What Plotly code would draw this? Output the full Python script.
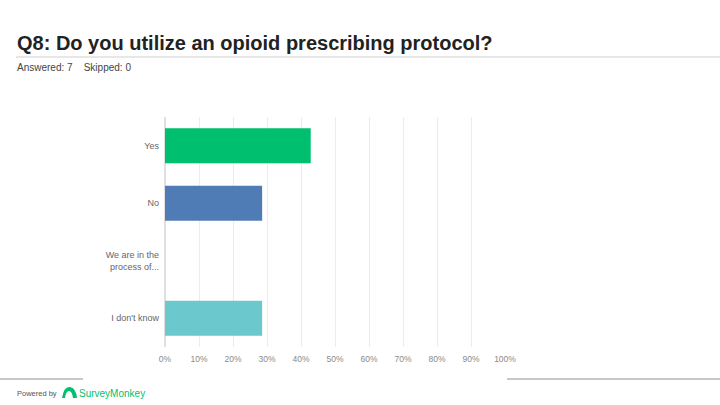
import plotly.graph_objects as go

# Q8 de la encuesta: 7 respondieron, 0 omitieron
CATEGORIAS = ["Yes", "No", "We are in the<br>process of...", "I don't know"]
PORCENTAJES = [42.86, 28.57, 0.0, 28.57]
COLORES = ["#00BF6F", "#507CB6", "#F9BE00", "#6BC8CD"]
TICKS = [0, 10, 20, 30, 40, 50, 60, 70, 80, 90, 100]
TICK_LABELS = [f"{t}%" for t in TICKS]

W, H = 720, 405
FONT = "Liberation Sans, Arial, sans-serif"


def px_x(x):
    return x / W


def px_y(y):
    return 1 - y / H


fig = go.Figure(
    go.Bar(
        x=PORCENTAJES,
        y=CATEGORIAS,
        orientation="h",
        marker=dict(color=COLORES, line=dict(width=0)),
        hoverinfo="x+y",
    )
)

fig.update_layout(
    width=W,
    height=H,
    paper_bgcolor="white",
    plot_bgcolor="white",
    margin=dict(l=0, r=0, t=0, b=0, autoexpand=False),
    showlegend=False,
    bargap=0.39,
    font=dict(family=FONT, color="#666666"),
    xaxis=dict(
        domain=[px_x(165), px_x(505)],
        range=[0, 100],
        tickvals=TICKS,
        ticktext=TICK_LABELS,
        tickfont=dict(size=8.5, color="#8a8a8a"),
        ticklabelstandoff=5,
        showgrid=True,
        gridcolor="#ececec",
        gridwidth=1,
        zeroline=True,
        zerolinecolor="#e0e0e0",
        showline=False,
        ticks="",
        automargin=False,
        fixedrange=True,
    ),
    yaxis=dict(
        domain=[px_y(347), px_y(117)],
        categoryorder="array",
        categoryarray=CATEGORIAS,
        autorange="reversed",
        tickfont=dict(size=9, color="#666666"),
        ticks="",
        ticklabelstandoff=5,
        showgrid=False,
        automargin=False,
        fixedrange=True,
    ),
)

# titulo y linea bajo el titulo
fig.add_annotation(
    text="<b>Q8: Do you utilize an opioid prescribing protocol?</b>",
    x=px_x(15), y=px_y(43), xref="paper", yref="paper",
    xanchor="left", yanchor="middle", showarrow=False,
    font=dict(family=FONT, size=20, color="#222222"),
)
fig.add_shape(
    type="line", xref="paper", yref="paper",
    x0=px_x(16), x1=1.0, y0=px_y(57), y1=px_y(57),
    line=dict(color="#cfcfcf", width=1),
)
fig.add_annotation(
    text="Answered: 7&nbsp;&nbsp;&nbsp;&nbsp;Skipped: 0",
    x=px_x(15), y=px_y(68), xref="paper", yref="paper",
    xanchor="left", yanchor="middle", showarrow=False,
    font=dict(family=FONT, size=10, color="#444444"),
)

# pie de pagina
for x0, x1 in [(0, 83), (507, 720)]:
    fig.add_shape(
        type="line", xref="paper", yref="paper",
        x0=px_x(x0), x1=px_x(x1), y0=px_y(379), y1=px_y(379),
        line=dict(color="#c8c8c8", width=2),
    )
fig.add_annotation(
    text="Powered by",
    x=px_x(15), y=px_y(393), xref="paper", yref="paper",
    xanchor="left", yanchor="middle", showarrow=False,
    font=dict(family=FONT, size=7.5, color="#555555"),
)
# logo aproximado
logo = (
    f"M {px_x(62)},{px_y(398)} Q {px_x(64)},{px_y(386)} {px_x(70)},{px_y(387)} "
    f"Q {px_x(76)},{px_y(388)} {px_x(77)},{px_y(398)} L {px_x(73)},{px_y(398)} "
    f"Q {px_x(72)},{px_y(391)} {px_x(69)},{px_y(391)} Q {px_x(66)},{px_y(391)} "
    f"{px_x(65)},{px_y(398)} Z"
)
fig.add_shape(type="path", xref="paper", yref="paper", path=logo,
              fillcolor="#00BF6F", line=dict(width=0))
fig.add_annotation(
    text="SurveyMonkey",
    x=px_x(77), y=px_y(393), xref="paper", yref="paper",
    xanchor="left", yanchor="middle", showarrow=False,
    font=dict(family=FONT, size=10, color="#00BF6F"),
)

fig.write_html(
    "out.html",
    config={"displayModeBar": False},
    post_script="document.body.style.margin='0';",
)
